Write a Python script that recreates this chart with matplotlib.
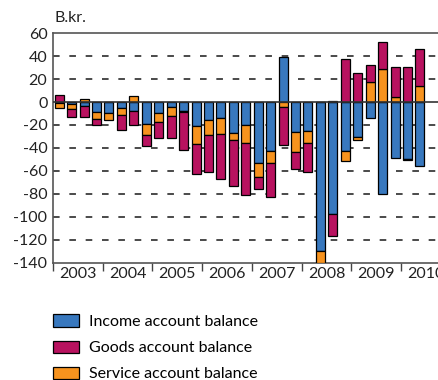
import matplotlib
matplotlib.use("Agg")
import matplotlib.pyplot as plt
import numpy as np

plt.rcParams["font.family"] = ["Lato", "DejaVu Sans"]
plt.rcParams["axes.unicode_minus"] = False

# Quarterly balances, 2003Q1 .. 2010Q2 (B.kr.)
years = ["2003", "2004", "2005", "2006", "2007", "2008", "2009", "2010"]
income = [-1, -1.5, -3.5, -9, -9.5, -5, -8, -19.5, -9.5, -4, -8, -21, -16, -14, -27,
          -20, -53, -42.5, 39, -26, -25, -130, -98, -43, -30.5, -13.7, -80, -49, -49.5, -55.5]
service = [-4, -4.5, 3, -6, -6, -6, 5, -9, -7.5, -8.5, -1, -15.5, -13, -13.5, -6,
           -16, -12, -11, -4.5, -18, -11, -10, 0.5, -8, -2.5, 17.5, 28.5, 4, -1, 13.8]
goods = [6, -7, -9.5, -5, 0, -13, -12, -10, -14.5, -19, -33, -26, -32, -40, -40,
         -45.5, -11, -29.5, -33, -14, -25, 0, -19, 38, 25, 14.5, 23.5, 27, 31, 32.5]

series = [
    ("Income account balance", income, "#3878BE"),
    ("Service account balance", service, "#F7931E"),
    ("Goods account balance", goods, "#B8125F"),
]

W, H = 439, 380
fig = plt.figure(figsize=(W / 100, H / 100), dpi=100)
ax = fig.add_axes([53 / W, 1 - 262.5 / H, (451 - 53) / W, (262.5 - 33.3) / H])

x = np.arange(len(income))
pos_base = np.zeros(len(x))
neg_base = np.zeros(len(x))
handles = {}
for name, vals, col in series:
    v = np.array(vals, dtype=float)
    bottom = np.where(v >= 0, pos_base, neg_base)
    b = ax.bar(x, v, bottom=bottom, width=0.72, color=col, edgecolor="black",
               linewidth=0.9, zorder=3)
    handles[name] = b
    pos_base += np.where(v >= 0, v, 0)
    neg_base += np.where(v < 0, v, 0)

ax.set_xlim(-0.5, 31.5)
ax.set_ylim(-140, 60)
ax.set_yticks(np.arange(-140, 61, 20))
for yv in range(-120, 60, 20):
    if yv == 0:
        continue
    ax.axhline(yv, color="#4a4a4a", lw=1.4, ls=(0, (3.4, 5.0)), zorder=1)
ax.axhline(0, color="#333333", lw=1.2, zorder=4)

# year labels centred, boundary ticks below
ax.set_xticks(np.arange(1.5, 32, 4))
ax.set_xticklabels(years)
ax.set_xticks(np.arange(-0.5, 32, 4), minor=True)
ax.tick_params(axis="x", which="major", length=0, pad=3, labelsize=11.5, colors="#222222")
ax.tick_params(axis="x", which="minor", length=6, width=1, color="#444444", direction="out")
ax.tick_params(axis="y", length=0, pad=4, labelsize=11.5, colors="#222222")

for s in ["left", "top", "bottom"]:
    ax.spines[s].set_color("#555555")
    ax.spines[s].set_linewidth(1.2)
ax.spines["right"].set_visible(False)

fig.text(55 / W, 1 - 18 / H, "B.kr.", fontsize=11.5, color="#222222", va="center")

order = ["Income account balance", "Goods account balance", "Service account balance"]
fig.legend([handles[n] for n in order], order, loc="upper left",
           bbox_to_anchor=(39 / W, 1 - 300 / H), frameon=False, fontsize=11.5,
           handlelength=1.6, handleheight=0.8, handletextpad=0.65, labelspacing=0.72)

fig.savefig("out.png", dpi=100)
